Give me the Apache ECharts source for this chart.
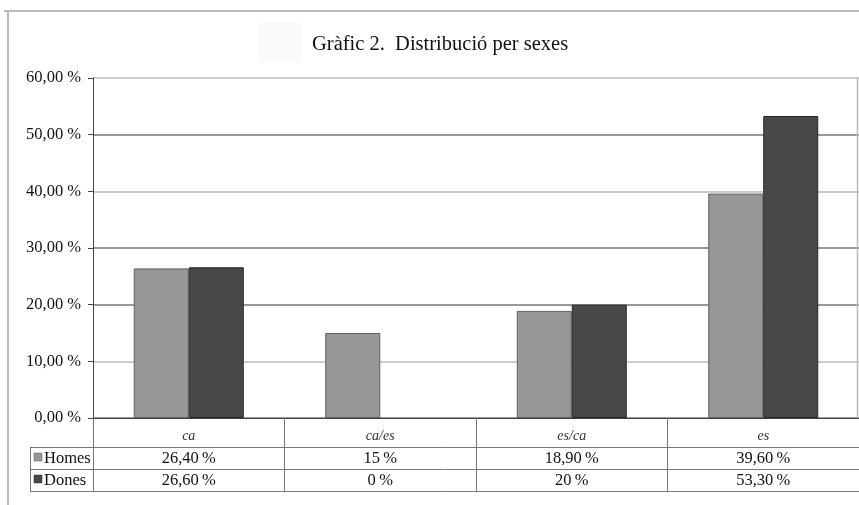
<!DOCTYPE html>
<html>
<head>
<meta charset="utf-8">
<script src="https://cdn.jsdelivr.net/npm/echarts@6/dist/echarts.min.js"></script>
<style>
  html, body { margin: 0; padding: 0; background: #fff; }
  #chart { width: 859px; height: 505px; }
</style>
</head>
<body>
<div id="chart"></div>
<script>
// Language usage by sex (percentages)
const categories = ['ca', 'ca/es', 'es/ca', 'es'];
const seriesNames = ['Homes', 'Dones'];
const homes = [26.4, 15, 18.9, 39.6];
const dones = [26.6, 0, 20, 53.3];
const yTicks = [0, 10, 20, 30, 40, 50, 60];

const FONT = '"Liberation Serif", "DejaVu Serif", serif';
const COLORS = ['#979797', '#484848'];
const BORDERS = ['#5e5e5e', '#262626'];

const G = { left: 93, right: 0, top: 78, bottom: 87 };
const W = 859, H = 505;
const plotBottom = H - G.bottom;           // 418
const rowTop = [447, 469];                  // table rows (Homes, Dones)
const rowH = 22;

function fmtPct(v) {
  const s = Number.isInteger(v) ? String(v) : v.toFixed(2).replace('.', ',');
  return s + '\u2009%';
}

// zero-height bars get no outline so nothing shows on the axis
function barData(vals) {
  return vals.map(v => v === 0 ? { value: v, itemStyle: { borderWidth: 0 } } : v);
}

const chart = echarts.init(document.getElementById('chart'), null, { renderer: 'canvas' });

const option = {
  animation: false,
  backgroundColor: '#fff',
  title: {
    text: 'Gràfic 2.  Distribució per sexes',
    left: 307, top: 29,
    textStyle: { fontFamily: FONT, fontSize: 20.5, fontWeight: 'normal', color: '#111' }
  },
  grid: { left: G.left, right: G.right, top: G.top, bottom: G.bottom, containLabel: false },
  xAxis: {
    type: 'category',
    data: categories,
    boundaryGap: true,
    axisLine: { lineStyle: { color: '#444', width: 1 } },
    axisTick: { show: true, length: 73, alignWithLabel: false, lineStyle: { color: '#777', width: 1 } },
    axisLabel: { fontFamily: FONT, fontStyle: 'italic', fontSize: 14, color: '#333', margin: 11 }
  },
  yAxis: {
    type: 'value',
    min: yTicks[0], max: yTicks[yTicks.length - 1], interval: 10,
    axisLine: { show: true, lineStyle: { color: '#444', width: 1 } },
    axisTick: { show: true, length: 5, lineStyle: { color: '#444' } },
    axisLabel: {
      fontFamily: FONT, fontSize: 16.5, color: '#111', margin: 12,
      formatter: v => v.toFixed(2).replace('.', ',') + ' %'
    },
    splitLine: {
      show: true,
      lineStyle: { color: ['#777', '#bbb', '#777', '#777', '#bbb', '#777', '#bbb'], width: 1.5 }
    }
  },
  series: [
    {
      name: seriesNames[0], type: 'bar', data: barData(homes), barWidth: 55, barGap: '0%',
      itemStyle: { color: COLORS[0], borderColor: BORDERS[0], borderWidth: 1 }
    },
    {
      name: seriesNames[1], type: 'bar', data: barData(dones), barWidth: 55, barGap: '0%',
      itemStyle: { color: COLORS[1], borderColor: BORDERS[1], borderWidth: 1 }
    }
  ]
};

chart.setOption(option);

// Data table under the axis, frame and legend keys
function buildTable() {
  const els = [];
  const lineStyle = { stroke: '#777', lineWidth: 1 };
  // frame
  els.push({ type: 'line', shape: { x1: 8, y1: 11, x2: 8, y2: H }, style: { stroke: '#bbb', lineWidth: 2 } });
  els.push({ type: 'line', shape: { x1: 4, y1: 11, x2: W, y2: 11 }, style: { stroke: '#bbb', lineWidth: 2 } });
  els.push({ type: 'line', shape: { x1: W - 1.5, y1: G.top, x2: W - 1.5, y2: plotBottom }, style: { stroke: '#bbb', lineWidth: 1.5 } });
  // faint box behind the title
  els.push({ type: 'rect', shape: { x: 258, y: 22, width: 44, height: 40 }, style: { fill: '#fafafa' }, z: -1 });
  // table rules
  const yLines = [rowTop[0], rowTop[1], rowTop[1] + rowH];
  yLines.forEach(y => {
    els.push({ type: 'line', shape: { x1: 30, y1: y + 0.5, x2: W, y2: y + 0.5 }, style: lineStyle });
  });
  els.push({ type: 'line', shape: { x1: 30.5, y1: rowTop[0], x2: 30.5, y2: rowTop[1] + rowH }, style: lineStyle });
  const rows = [homes, dones];
  rows.forEach((vals, r) => {
    const cy = rowTop[r] + rowH / 2 + 1;
    // legend key
    els.push({
      type: 'rect', shape: { x: 34, y: cy - 6, width: 8, height: 8 },
      style: { fill: COLORS[r], stroke: BORDERS[r], lineWidth: 0.5 }
    });
    els.push({
      type: 'text', style: {
        x: 44, y: cy, text: seriesNames[r], fill: '#111',
        font: '16.5px ' + FONT, textAlign: 'left', textVerticalAlign: 'middle'
      }
    });
    vals.forEach((v, i) => {
      const x = chart.convertToPixel({ xAxisIndex: 0 }, i);
      els.push({
        type: 'text', style: {
          x: x, y: cy, text: fmtPct(v), fill: '#111',
          font: '16.5px ' + FONT, textAlign: 'center', textVerticalAlign: 'middle'
        }
      });
    });
  });
  chart.setOption({ graphic: { elements: els } });
}
buildTable();
</script>
</body>
</html>
